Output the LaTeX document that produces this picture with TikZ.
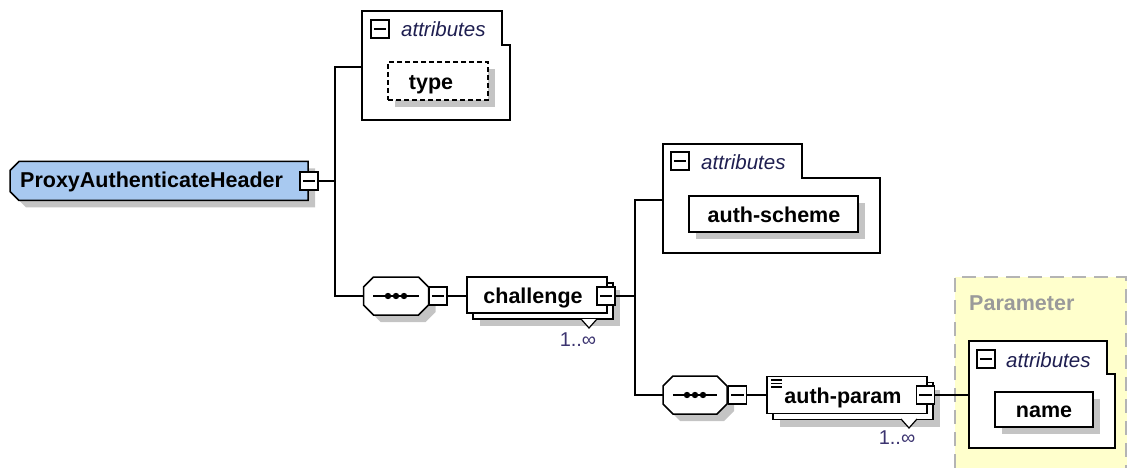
\documentclass[tikz,border=0pt]{standalone}
\usepackage{fontspec}
\setmainfont{Liberation Sans}
\definecolor{shd}{HTML}{C4C4C4}
\definecolor{elemblue}{HTML}{A8C9F0}
\definecolor{grpyellow}{HTML}{FFFFCC}
\definecolor{grpborder}{HTML}{B4B4B4}
\definecolor{grptext}{HTML}{9A9A9A}
\definecolor{attrtext}{HTML}{1E1E50}
\definecolor{occtext}{HTML}{3C3470}
\begin{document}
\begin{tikzpicture}[x=1pt,y=-1pt,
  lw/.style={line width=1.5pt},
  shadowfill/.style={fill=shd,draw=none},
  elembox/.style={draw,lw,fill=white,rectangle,inner sep=0pt},
  elemshadow/.style={rectangle,inner sep=0pt,fill=shd,draw=none},
  area/.style={rectangle,inner sep=0pt,draw=none},
  attrshape/.style={draw,lw,fill=white},
  minus/.style={draw,lw,fill=white,rectangle,inner sep=0pt,minimum size=18pt},
  lbl/.style={inner sep=0pt,text height=15.5pt,text depth=0pt,
    font=\fontsize{21.5}{24}\selectfont\bfseries},
  attrlbl/.style={inner sep=0pt,text height=15pt,text depth=0pt,text=attrtext,
    font=\fontsize{20.5}{24}\selectfont\itshape},
  occ/.style={inner sep=0pt,text=occtext,font=\fontsize{20}{24}\selectfont},
  grplbl/.style={inner sep=0pt,text height=15.5pt,text depth=0pt,text=grptext,
    font=\fontsize{21.5}{24}\selectfont\bfseries},
]
\useasboundingbox (0,0) rectangle (1128,468);

% ---------- group background ----------
\fill[grpyellow] (955,277) rectangle (1127,468);
\draw[grpborder,line width=2pt,dash pattern=on 14pt off 8pt]
  (955,468) -- (955,277) -- (1126,277) -- (1126,468);
\node[grplbl,anchor=west] (grpt) at (969,303) {Parameter};

% ---------- root element ----------
\node[area,minimum width=298pt,minimum height=39pt] (pah) at (159,181) {};
\fill[shadowfill,shift={(7,7)}] (19,161.5) -- (308,161.5) -- (308,200.5) -- (19,200.5) -- (10,191.5) -- (10,170.5) -- cycle;
\draw[lw,fill=elemblue] (19,161.5) -- (308,161.5) -- (308,200.5) -- (19,200.5) -- (10,191.5) -- (10,170.5) -- cycle;
\node[lbl,anchor=west] (paht) at (20,180) {ProxyAuthenticateHeader};
\node[minus] (pahm) at (309,181) {};
\draw[lw] ([xshift=3.5pt]pahm.west) -- ([xshift=-3.5pt]pahm.east);
\coordinate (j1) at (335,181);

% ---------- attributes 1 ----------
\node[area,minimum width=148pt,minimum height=109pt] (attr1) at (436,67) {};
\draw[attrshape] (362,11) -- (502,11) -- (502,45) -- (510,45) -- (510,120) -- (362,120) -- cycle;
\node[minus] (attr1m) at (380,29) {};
\draw[lw] ([xshift=3.5pt]attr1m.west) -- ([xshift=-3.5pt]attr1m.east);
\node[attrlbl,anchor=west] (attr1t) at (401,29) {attributes};
\node[elemshadow,minimum width=100pt,minimum height=38pt] (types) at (445,88) {};
\node[elembox,dash pattern=on 5pt off 3pt,minimum width=100pt,minimum height=38pt] (type) at (438,81) {};
\node[lbl] (typet) at (431,81.5) {type};

% ---------- sequence 1 ----------
\node[area,minimum width=65pt,minimum height=38pt] (seq1) at (396,296) {};
\fill[shadowfill,shift={(7,7)}] (373.5,277) -- (418.5,277) -- (428.5,287) -- (428.5,305) -- (418.5,315) -- (373.5,315) -- (363.5,305) -- (363.5,287) -- cycle;
\draw[lw,fill=white] (373.5,277) -- (418.5,277) -- (428.5,287) -- (428.5,305) -- (418.5,315) -- (373.5,315) -- (363.5,305) -- (363.5,287) -- cycle;
\draw[lw] ([xshift=10pt]seq1.west) -- ([xshift=-10pt]seq1.east);
\foreach \dx in {-8,0,8} \fill ([xshift=\dx pt]seq1.center) circle (3.2pt);
\node[minus] (seq1m) at (438,296) {};
\draw[lw] ([xshift=3.5pt]seq1m.west) -- ([xshift=-3.5pt]seq1m.east);

% ---------- challenge ----------
\node[elemshadow,minimum width=140pt,minimum height=36pt] (chs) at (550,308) {};
\node[elembox,minimum width=140pt,minimum height=36pt] (chb) at (543,301) {};
\node[elembox,minimum width=140pt,minimum height=36pt] (ch) at (537,295) {};
\node[lbl] (cht) at (533,295.5) {challenge};
\node[minus] (chm) at (606,296) {};
\draw[lw] ([xshift=3.5pt]chm.west) -- ([xshift=-3.5pt]chm.east);
\draw[line width=1.2pt,fill=white] (581,319) -- (589,328) -- (597,319);
\node[occ] (cho) at (578,340) {1..∞};
\coordinate (j2) at (635,296);

% ---------- attributes 2 ----------
\node[area,minimum width=217pt,minimum height=109pt] (attr2) at (771.5,200) {};
\draw[attrshape] (663,144) -- (802,144) -- (802,178) -- (880,178) -- (880,253) -- (663,253) -- cycle;
\node[minus] (attr2m) at (680,161) {};
\draw[lw] ([xshift=3.5pt]attr2m.west) -- ([xshift=-3.5pt]attr2m.east);
\node[attrlbl,anchor=west] (attr2t) at (701,162) {attributes};
\node[elemshadow,minimum width=169pt,minimum height=36pt] (ass) at (780.5,221) {};
\node[elembox,minimum width=169pt,minimum height=36pt] (as) at (773.5,214) {};
\node[lbl] (ast) at (774,214.5) {auth-scheme};

% ---------- sequence 2 ----------
\node[area,minimum width=64pt,minimum height=38pt] (seq2) at (695,395) {};
\fill[shadowfill,shift={(7,7)}] (673,376) -- (717,376) -- (727,386) -- (727,404) -- (717,414) -- (673,414) -- (663,404) -- (663,386) -- cycle;
\draw[lw,fill=white] (673,376) -- (717,376) -- (727,386) -- (727,404) -- (717,414) -- (673,414) -- (663,404) -- (663,386) -- cycle;
\draw[lw] ([xshift=10pt]seq2.west) -- ([xshift=-10pt]seq2.east);
\foreach \dx in {-8,0,8} \fill ([xshift=\dx pt]seq2.center) circle (3.2pt);
\node[minus] (seq2m) at (737.5,395) {};
\draw[lw] ([xshift=3.5pt]seq2m.west) -- ([xshift=-3.5pt]seq2m.east);

% ---------- auth-param ----------
\node[elemshadow,minimum width=160pt,minimum height=37pt] (aps) at (860,408) {};
\node[elembox,minimum width=160pt,minimum height=37pt] (apb) at (853,401) {};
\node[elembox,minimum width=160pt,minimum height=37pt] (ap) at (847,395) {};
\foreach \yy in {380,383.5,387} \draw[line width=1.2pt] (771,\yy) -- (782,\yy);
\node[lbl] (apt) at (843,396) {auth-param};
\node[minus] (apm) at (925.5,395) {};
\draw[lw] ([xshift=3.5pt]apm.west) -- ([xshift=-3.5pt]apm.east);
\draw[line width=1.2pt,fill=white] (901,419) -- (909,428) -- (917,419);
\node[occ] (apo) at (897,438) {1..∞};

% ---------- attributes 3 ----------
\node[area,minimum width=146pt,minimum height=107pt] (attr3) at (1042,395) {};
\draw[attrshape] (969,341) -- (1107,341) -- (1107,374) -- (1115,374) -- (1115,448) -- (969,448) -- cycle;
\node[minus] (attr3m) at (986,359) {};
\draw[lw] ([xshift=3.5pt]attr3m.west) -- ([xshift=-3.5pt]attr3m.east);
\node[attrlbl,anchor=west] (attr3t) at (1006,360) {attributes};
\node[elemshadow,minimum width=98pt,minimum height=35pt] (nms) at (1051,416.5) {};
\node[elembox,minimum width=98pt,minimum height=35pt] (nm) at (1044,409.5) {};
\node[lbl] (nmt) at (1044,410) {name};

% ---------- connectors ----------
\draw[lw] (pahm.east) -- (j1);
\draw[lw] (attr1.west) -| (j1) |- (seq1.west);
\draw[lw] (seq1m.east) -- (seq1m.east -| ch.west);
\draw[lw] (chm.east) -- (j2);
\draw[lw] (attr2.west) -| (j2) |- (seq2.west);
\draw[lw] (seq2m.east) -- (seq2m.east -| ap.west);
\draw[lw] (apm.east) -- (apm.east -| attr3.west);
\end{tikzpicture}
\end{document}
